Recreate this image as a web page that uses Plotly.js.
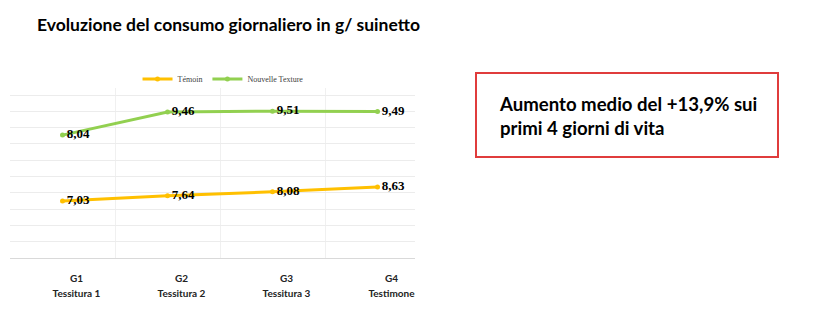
<!DOCTYPE html>
<html><head><meta charset="utf-8">
<script src="https://cdn.plot.ly/plotly-3.0.1.min.js"></script>
<style>html,body{margin:0;padding:0;background:#fff}#chart{width:820px;height:328px}</style>
</head><body><div id="chart"></div>
<script>
const groups = ["G1", "G2", "G3", "G4"];
const subLabels = ["Tessitura 1", "Tessitura 2", "Tessitura 3", "Testimone"];
const temoin = [7.03, 7.64, 8.08, 8.63];
const nouvelle = [8.04, 9.46, 9.51, 9.49];
const seriesNames = ["Témoin", "Nouvelle Texture"];
const boxText = "Aumento medio del +13,9% sui<br>primi 4 giorni di vita";
const titleText = "Evoluzione del consumo giornaliero in g/ suinetto";

const fmt = v => v.toFixed(2).replace('.', ',');
const labelFont = {family: "Liberation Serif", size: 13, color: "#000"};
const tickText = groups.map((g, i) => "<span style='font-size:10px'>" + g + "<br>" + subLabels[i] + "</span>");

const traces = [
  {x: groups, y: temoin, name: seriesNames[0], type: "scatter", mode: "lines+markers+text",
   line: {color: "#FFC000", width: 3}, marker: {color: "#FFC000", size: 5},
   text: temoin.map(v => "<b>" + fmt(v) + "</b>"), textposition: "middle right", textfont: labelFont,
   yaxis: "y", cliponaxis: false},
  {x: groups, y: nouvelle, name: seriesNames[1], type: "scatter", mode: "lines+markers+text",
   line: {color: "#92D050", width: 3}, marker: {color: "#92D050", size: 5},
   text: nouvelle.map(v => "<b>" + fmt(v) + "</b>"), textposition: "middle right", textfont: labelFont,
   yaxis: "y2", cliponaxis: false}
];

const layout = {
  width: 820, height: 328,
  margin: {l: 10, r: 405, t: 88, b: 70},
  paper_bgcolor: "#fff", plot_bgcolor: "#fff",
  title: {text: titleText, x: 37/820, xanchor: "left", xref: "container", y: 1 - 25/328, yanchor: "middle", yref: "container",
          font: {family: "Lato", size: 17.5, color: "#000", weight: "bold"}},
  showlegend: true,
  legend: {orientation: "h", x: 0.526, xanchor: "center", y: 1.053, yanchor: "middle",
           font: {family: "Liberation Serif", size: 8, color: "#404040"}, itemwidth: 30, bgcolor: "rgba(0,0,0,0)"},
  xaxis: {type: "category", range: [-0.5, 3.357], tickson: "boundaries", showgrid: true, gridcolor: "#f0f0f0", gridwidth: 1,
          tickmode: "array", tickvals: groups, ticktext: tickText,
          ticks: "", showline: true, linecolor: "#d9d9d9", linewidth: 1, ticklabelshift: 14, ticklabelstandoff: 9,
          tickfont: {family: "Lato", size: 11.5, color: "#222", weight: "bold"}, fixedrange: true},
  yaxis: {range: [0.52, 19.95], showgrid: false, showticklabels: false, zeroline: false, ticks: ""},
  yaxis2: {range: [0.5, 10.93], overlaying: "y", side: "right", tick0: 0.5, dtick: 1, showgrid: true, gridcolor: "#ececec",
           showticklabels: false, zeroline: false, ticks: ""},
  shapes: [
    {type: "rect", xref: "paper", yref: "paper", x0: (476-10)/405, x1: (778-10)/405, y0: (258-157)/170, y1: (258-73)/170,
     line: {color: "#E03C3C", width: 2}, fillcolor: "rgba(0,0,0,0)"}
  ],
  annotations: [
    {xref: "paper", yref: "paper", x: (497-10)/405, y: (258-116)/170, xanchor: "left", yanchor: "middle", align: "left",
     showarrow: false, text: boxText, font: {family: "Lato", size: 18.6, color: "#000", weight: "bold"}}
  ]
};

Plotly.newPlot("chart", traces, layout, {displayModeBar: false, staticPlot: true});
</script>
</body></html>
